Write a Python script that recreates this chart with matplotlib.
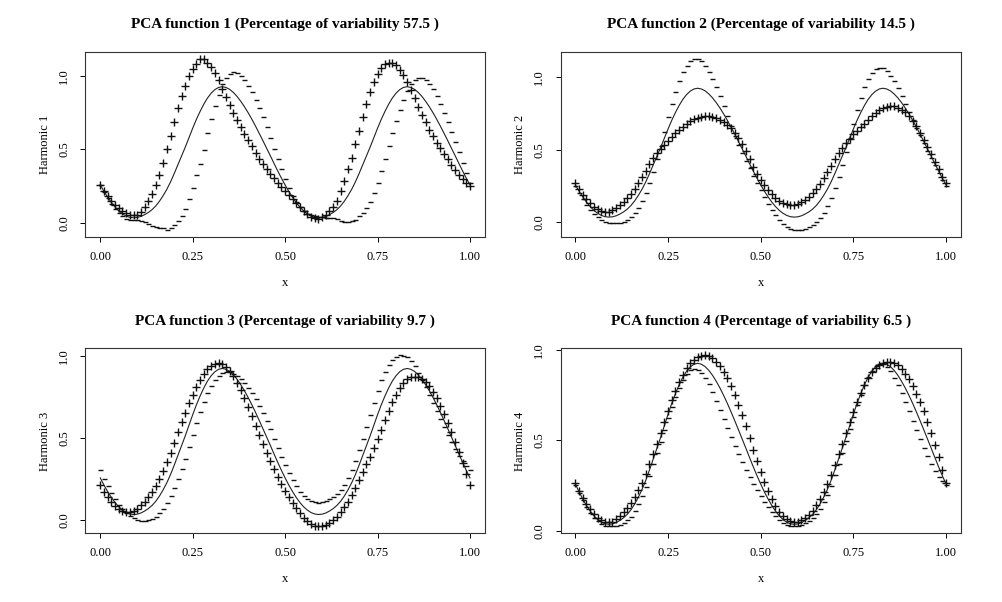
import numpy as np
import matplotlib
matplotlib.use("Agg")
import matplotlib.pyplot as plt

plt.rcParams['font.family'] = ['Liberation Serif', 'DejaVu Serif']

# evaluation grid (101 points on [0, 1])
x_grid = np.linspace(0, 1, 101)

# mean function
mean_curve = [
    0.258, 0.214, 0.175, 0.139, 0.108, 0.082, 0.062, 0.047, 0.038, 0.035,
    0.037, 0.044, 0.056, 0.071, 0.090, 0.115, 0.147, 0.185, 0.228, 0.278,
    0.335, 0.395, 0.455, 0.515, 0.579, 0.643, 0.703, 0.757, 0.806, 0.848,
    0.881, 0.905, 0.920, 0.925, 0.920, 0.907, 0.886, 0.859, 0.826, 0.789,
    0.748, 0.704, 0.657, 0.608, 0.558, 0.507, 0.456, 0.404, 0.353, 0.304,
    0.258, 0.214, 0.175, 0.139, 0.108, 0.082, 0.062, 0.047, 0.038, 0.035,
    0.037, 0.044, 0.056, 0.071, 0.090, 0.115, 0.147, 0.185, 0.228, 0.278,
    0.335, 0.395, 0.455, 0.515, 0.579, 0.643, 0.703, 0.757, 0.806, 0.848,
    0.881, 0.905, 0.920, 0.925, 0.920, 0.907, 0.886, 0.859, 0.826, 0.789,
    0.748, 0.704, 0.657, 0.608, 0.558, 0.507, 0.456, 0.404, 0.353, 0.304,
    0.258,
]

# scaled harmonics: "+" curve = mean + h, "-" curve = mean - h
harmonic_1 = [
    0.000, 0.002, 0.005, 0.008, 0.012, 0.016, 0.018, 0.018, 0.017, 0.016,
    0.018, 0.030, 0.050, 0.077, 0.108, 0.142, 0.180, 0.222, 0.275, 0.315,
    0.350, 0.385, 0.408, 0.418, 0.418, 0.405, 0.378, 0.355, 0.310, 0.240,
    0.175, 0.112, 0.048, -0.015, -0.065, -0.105, -0.138, -0.160, -0.174, -0.182,
    -0.185, -0.184, -0.180, -0.172, -0.160, -0.142, -0.122, -0.100, -0.080, -0.060,
    -0.042, -0.025, -0.010, -0.002, 0.000, 0.000, -0.002, -0.005, -0.007, -0.005,
    0.000, 0.010, 0.023, 0.040, 0.060, 0.100, 0.140, 0.180, 0.215, 0.255,
    0.290, 0.325, 0.352, 0.372, 0.378, 0.370, 0.350, 0.320, 0.282, 0.238,
    0.188, 0.135, 0.082, 0.030, -0.020, -0.062, -0.098, -0.125, -0.143, -0.155,
    -0.160, -0.158, -0.150, -0.140, -0.127, -0.112, -0.095, -0.077, -0.057, -0.035,
    -0.010,
]
harmonic_2 = [
    0.010, 0.013, 0.016, 0.019, 0.022, 0.025, 0.028, 0.031, 0.034, 0.038,
    0.044, 0.052, 0.062, 0.070, 0.077, 0.082, 0.085, 0.085, 0.082, 0.076,
    0.066, 0.048, 0.022, -0.010, -0.045, -0.080, -0.113, -0.143, -0.168, -0.188,
    -0.201, -0.209, -0.210, -0.204, -0.192, -0.173, -0.150, -0.130, -0.105, -0.080,
    -0.055, -0.030, -0.008, 0.010, 0.022, 0.030, 0.033, 0.032, 0.031, 0.032,
    0.035, 0.040, 0.046, 0.053, 0.060, 0.066, 0.072, 0.077, 0.082, 0.086,
    0.090, 0.095, 0.100, 0.106, 0.112, 0.117, 0.120, 0.121, 0.118, 0.110,
    0.098, 0.082, 0.060, 0.030, -0.002, -0.036, -0.070, -0.100, -0.125, -0.142,
    -0.151, -0.152, -0.146, -0.137, -0.122, -0.105, -0.086, -0.067, -0.048, -0.030,
    -0.015, -0.004, 0.004, 0.009, 0.012, 0.013, 0.013, 0.012, 0.011, 0.010,
    0.010,
]
harmonic_3 = [
    -0.046, -0.040, -0.033, -0.026, -0.019, -0.012, -0.004, 0.004, 0.013, 0.023,
    0.034, 0.046, 0.058, 0.070, 0.082, 0.094, 0.105, 0.115, 0.124, 0.132,
    0.138, 0.142, 0.143, 0.140, 0.133, 0.123, 0.112, 0.100, 0.088, 0.075,
    0.062, 0.050, 0.038, 0.026, 0.014, 0.003, -0.008, -0.020, -0.032, -0.045,
    -0.058, -0.070, -0.081, -0.090, -0.096, -0.099, -0.098, -0.094, -0.088, -0.082,
    -0.077, -0.072, -0.069, -0.067, -0.066, -0.066, -0.067, -0.069, -0.071, -0.073,
    -0.074, -0.074, -0.072, -0.070, -0.068, -0.067, -0.068, -0.071, -0.076, -0.083,
    -0.092, -0.103, -0.115, -0.127, -0.138, -0.146, -0.150, -0.148, -0.140, -0.128,
    -0.115, -0.100, -0.083, -0.067, -0.050, -0.032, -0.014, 0.002, 0.016, 0.027,
    0.035, 0.040, 0.042, 0.040, 0.036, 0.030, 0.022, 0.010, -0.005, -0.025,
    -0.046,
]
harmonic_4 = [
    0.005, 0.006, 0.007, 0.008, 0.009, 0.010, 0.010, 0.010, 0.010, 0.010,
    0.012, 0.018, 0.025, 0.030, 0.034, 0.037, 0.038, 0.038, 0.037, 0.035,
    0.032, 0.029, 0.026, 0.023, 0.020, 0.018, 0.017, 0.016, 0.015, 0.015,
    0.016, 0.019, 0.025, 0.035, 0.048, 0.062, 0.078, 0.094, 0.108, 0.120,
    0.130, 0.137, 0.140, 0.140, 0.137, 0.130, 0.120, 0.108, 0.095, 0.081,
    0.067, 0.054, 0.043, 0.034, 0.027, 0.022, 0.018, 0.015, 0.013, 0.012,
    0.012, 0.013, 0.015, 0.018, 0.021, 0.024, 0.027, 0.029, 0.030, 0.030,
    0.029, 0.027, 0.025, 0.022, 0.019, 0.015, 0.010, 0.005, 0.001, -0.002,
    -0.004, -0.004, -0.002, 0.004, 0.014, 0.026, 0.040, 0.054, 0.067, 0.078,
    0.088, 0.096, 0.101, 0.103, 0.101, 0.095, 0.085, 0.072, 0.055, 0.032,
    0.005,
]

harmonics = [harmonic_1, harmonic_2, harmonic_3, harmonic_4]
variability = [57.5, 14.5, 9.7, 6.5]

x_ticks = [0.0, 0.25, 0.5, 0.75, 1.0]
x_tick_labels = ['0.00', '0.25', '0.50', '0.75', '1.00']
y_ticks = [0.0, 0.5, 1.0]
y_tick_labels = ['0.0', '0.5', '1.0']

# axes boxes in figure fractions (left, bottom, width, height)
panel_rects = [
    [0.0853, 0.6068, 0.3985, 0.3073],
    [0.5594, 0.6068, 0.3995, 0.3073],
    [0.0853, 0.1141, 0.3985, 0.3070],
    [0.5594, 0.1141, 0.3995, 0.3070],
]


def draw_panel(ax, harmonic, number, pct):
    """One R-style PCA harmonic panel: mean line, +/- perturbations"""
    mean = np.asarray(mean_curve)
    shift = np.asarray(harmonic)

    ax.plot(x_grid, mean, color='#222222', lw=0.8)
    ax.plot(x_grid, mean + shift, ls='none', marker='+', ms=5.6, mew=1.0,
            color='#111111')
    ax.plot(x_grid, mean - shift, ls='none', marker='_', ms=3.6, mew=1.0,
            color='#111111')

    ax.margins(x=0.04, y=0.04)

    ax.set_xticks(x_ticks)
    ax.set_xticklabels(x_tick_labels)
    ax.set_yticks(y_ticks)
    ax.set_yticklabels(y_tick_labels, rotation=90, va='center')
    ax.tick_params(direction='out', length=3.6, width=0.7, labelsize=9,
                   colors='black')
    ax.tick_params(axis='x', pad=6.5)
    ax.tick_params(axis='y', pad=7.5)

    for spine in ax.spines.values():
        spine.set_color('#333333')
        spine.set_linewidth(0.8)

    ax.set_title(f'PCA function {number} (Percentage of variability {pct} )',
                 fontsize=11, fontweight='bold', pad=17)
    ax.set_xlabel('x', fontsize=9, labelpad=10)
    ax.set_ylabel(f'Harmonic {number}', fontsize=9, labelpad=5)


fig = plt.figure(figsize=(10.02, 6.02), dpi=100)
for i, (rect, harm, pct) in enumerate(zip(panel_rects, harmonics, variability)):
    ax = fig.add_axes(rect)
    draw_panel(ax, harm, i + 1, pct)

fig.savefig('out.png', dpi=100)
